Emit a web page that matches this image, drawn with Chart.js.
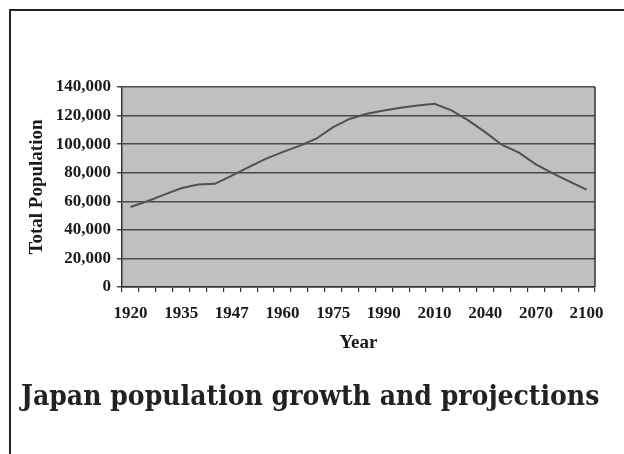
<!DOCTYPE html>
<html>
<head>
<meta charset="utf-8">
<script src="https://cdn.jsdelivr.net/npm/chart.js@4.4.1/dist/chart.umd.min.js"></script>
<style>
  html, body { margin: 0; padding: 0; background: #fff; }
  #wrap { position: relative; width: 624px; height: 454px; overflow: hidden; }
  #frame { position: absolute; left: 9px; top: 9px; width: 620px; height: 450px; border-top: 2px solid #222; border-left: 2px solid #222; }
  #popChart { position: absolute; left: 0; top: 0; }
  #caption { position: absolute; left: 21px; top: 379px; font-family: "DejaVu Serif Condensed", "DejaVu Serif", serif; font-stretch: condensed; font-weight: bold; font-size: 28px; color: #222; white-space: nowrap; }
</style>
</head>
<body>
<div id="wrap">
  <div id="frame"></div>
  <canvas id="popChart" width="624" height="454"></canvas>
  <div id="caption">Japan population growth and projections</div>
</div>
<script>
// census years + projections (one category each)
const years = ['1920', '1925', '1930', '1935', '1940', '1945', '1947', '1950', '1955', '1960',
  '1965', '1970', '1975', '1980', '1985', '1990', '1995', '2000', '2010', '2020',
  '2030', '2040', '2050', '2060', '2070', '2080', '2090', '2100'];
// total population, thousands
const population = [56000, 60000, 64700, 69100, 71700, 72200, 78000, 83900, 89700, 94400,
  98800, 103800, 111900, 117800, 121300, 123600, 125500, 127100, 128300, 123600,
  116600, 108400, 99400, 94000, 85800, 79600, 73800, 68100];
// only these years get a label under the axis
const shownYears = ['1920', '1935', '1947', '1960', '1975', '1990', '2010', '2040', '2070', '2100'];
const yTicks = [0, 20000, 40000, 60000, 80000, 100000, 120000, 140000];

const ink = '#1a1a1a';
const serifBold = (size) => ({ family: "'Liberation Serif', 'Times New Roman', serif", weight: 'bold', size: size });

// grey plot background + right frame line
const plotFrame = {
  id: 'plotFrame',
  beforeDraw(chart) {
    const { ctx, chartArea: a } = chart;
    ctx.save();
    ctx.fillStyle = '#c0c0c0';
    ctx.fillRect(a.left, a.top, a.right - a.left, a.bottom - a.top);
    ctx.restore();
  },
  afterDraw(chart) {
    const { ctx, chartArea: a } = chart;
    ctx.save();
    ctx.strokeStyle = '#333';
    ctx.lineWidth = 1.5;
    ctx.beginPath();
    ctx.moveTo(a.right, a.top);
    ctx.lineTo(a.right, a.bottom);
    ctx.stroke();
    ctx.restore();
  }
};

const ctx = document.getElementById('popChart').getContext('2d');
new Chart(ctx, {
  type: 'line',
  data: {
    labels: years,
    datasets: [{
      label: 'Total Population',
      data: population,
      borderColor: '#505050',
      borderWidth: 2,
      pointRadius: 0,
      tension: 0,
      fill: false
    }]
  },
  options: {
    responsive: false,
    animation: false,
    events: [],
    layout: { padding: { left: 20, right: 29, top: 87, bottom: 100 } },
    plugins: {
      legend: { display: false },
      tooltip: { enabled: false }
    },
    scales: {
      x: {
        offset: true,
        grid: { offset: true, drawOnChartArea: false, drawTicks: true, tickLength: 5, color: '#333', lineWidth: 1.2 },
        border: { color: '#333', width: 1.5 },
        ticks: {
          autoSkip: false,
          maxRotation: 0,
          padding: 11,
          color: ink,
          font: serifBold(17),
          callback: function (value, index) {
            const y = years[index];
            return shownYears.includes(y) ? y : '';
          }
        },
        title: { display: true, text: 'Year', color: ink, font: serifBold(19), padding: 0 },
        afterFit: function (scale) { scale.height = 67; }
      },
      y: {
        min: yTicks[0],
        max: yTicks[yTicks.length - 1],
        grid: { color: '#4a4a4a', lineWidth: 1.5, tickLength: 5 },
        border: { color: '#333', width: 1.5 },
        afterBuildTicks: function (scale) { scale.ticks = yTicks.map(v => ({ value: v })); },
        ticks: {
          padding: 6,
          color: ink,
          font: serifBold(17),
          callback: function (value) { return value.toLocaleString('en-US'); }
        },
        title: { display: true, text: 'Total Population', color: ink, font: serifBold(19), padding: { top: 6, bottom: 0 } },
        afterFit: function (scale) { scale.width = 102; }
      }
    }
  },
  plugins: [plotFrame]
});
</script>
</body>
</html>
